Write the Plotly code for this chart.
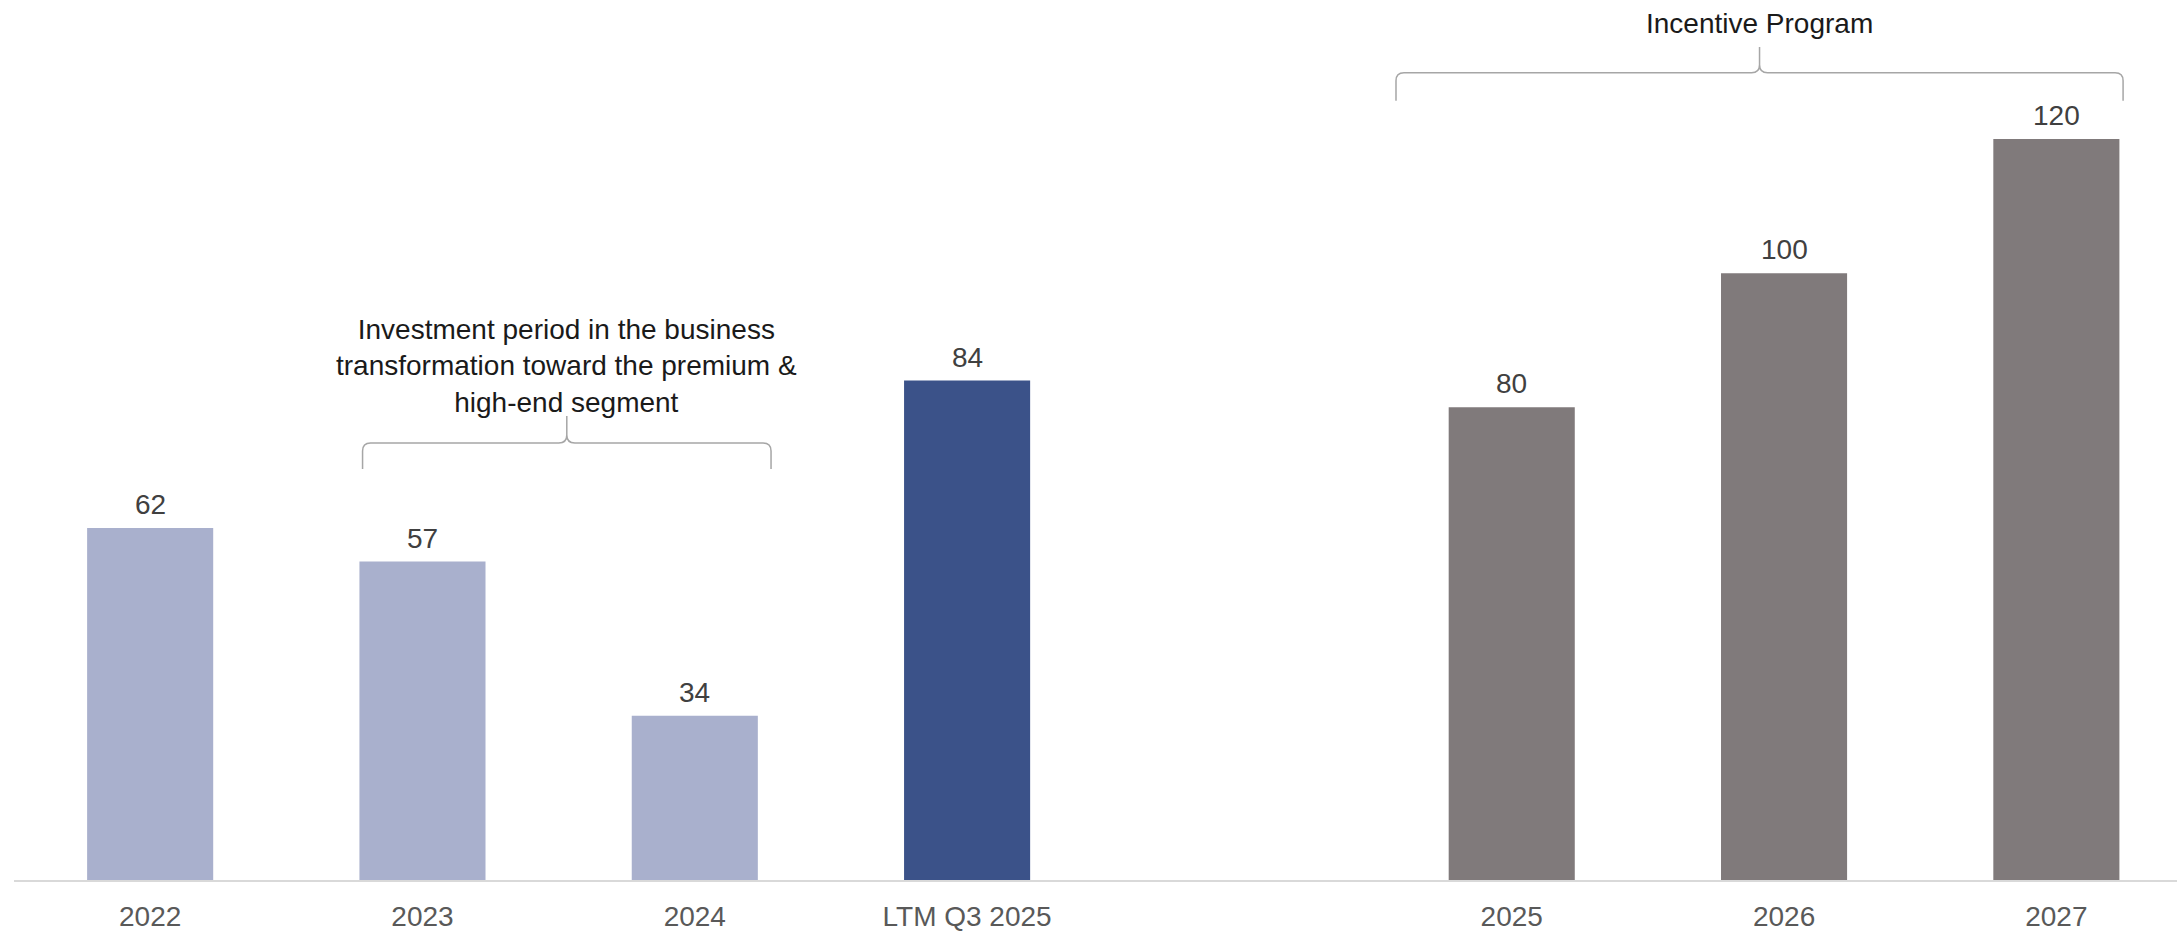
import plotly.graph_objects as go

# ---- data ----
categories = ["2022", "2023", "2024", "LTM Q3 2025", " ", "2025", "2026", "2027"]
hist_cats = ["2022", "2023", "2024"]
hist_vals = [62, 57, 34]
ltm_cats = ["LTM Q3 2025"]
ltm_vals = [84]
fc_cats = ["2025", "2026", "2027"]
fc_vals = [80, 100, 120]
brace1_text = "Investment period in the business<br>transformation toward the premium &<br>high-end segment"
brace2_text = "Incentive Program"

W, H = 2177, 932
ML, MR, MT, MB = 14, 0, 0, 50
PW, PH = W - ML - MR, H - MT - MB
X0, X1 = -0.5, 7.443
Y0, Y1 = 9.5, 140.75

LABEL_FONT = dict(family="Liberation Sans, Arial, sans-serif", size=28, color="#404040")

fig = go.Figure()
def add_bars(cats, vals, color):
    fig.add_trace(go.Bar(
        x=cats, y=vals, marker=dict(color=color, line=dict(width=0)),
        width=0.463, hoverinfo="x+y", showlegend=False))
    for c, v in zip(cats, vals):
        fig.add_annotation(x=categories.index(c), y=v, xref="x", yref="y", text=str(v),
                           showarrow=False, xanchor="center", yanchor="bottom",
                           yshift=6, font=LABEL_FONT)

add_bars(hist_cats, hist_vals, "#A9B0CD")
add_bars(ltm_cats, ltm_vals, "#3B5289")
add_bars(fc_cats, fc_vals, "#807A7B")
fig.add_trace(go.Bar(x=[" "], y=[None], showlegend=False, hoverinfo="skip"))

# helpers for bracket annotations (paper coords)
def px_x(idx):
    return (idx - X0) / (X1 - X0)
def py(pix):
    return (MT + PH - pix) / PH

def brace(xl_idx, xr_idx, y_line, y_end, y_tip, r=8):
    xl, xr = px_x(xl_idx), px_x(xr_idx)
    xm = (xl + xr) / 2
    rx = r / PW
    ry = r / PH
    yl, ye, yt = py(y_line), py(y_end), py(y_tip)
    path = (f"M {xl},{ye} L {xl},{yl - ry} Q {xl},{yl} {xl + rx},{yl} "
            f"L {xm - rx},{yl} Q {xm},{yl} {xm},{yl + ry} L {xm},{yt} "
            f"M {xm},{yl + ry} Q {xm},{yl} {xm + rx},{yl} L {xr - rx},{yl} "
            f"Q {xr},{yl} {xr},{yl - ry} L {xr},{ye}")
    fig.add_shape(type="path", path=path, xref="paper", yref="paper",
                  line=dict(color="#A6A6A6", width=1.5))
    return xm

ANN_FONT = dict(family="Liberation Sans, Arial, sans-serif", size=28, color="#1a1a1a")

xm1 = brace(0.78, 2.28, 444, 470, 417)
fig.add_annotation(x=xm1, y=py(421), xref="paper", yref="paper", text=brace1_text,
                   showarrow=False, xanchor="center", yanchor="bottom", align="center",
                   font=ANN_FONT)
xm2 = brace(4.575, 7.245, 73, 101, 47)
fig.add_annotation(x=xm2, y=py(24), xref="paper", yref="paper", text=brace2_text,
                   showarrow=False, xanchor="center", yanchor="middle",
                   font=ANN_FONT)

fig.update_layout(
    width=W, height=H, margin=dict(l=ML, r=MR, t=MT, b=MB),
    paper_bgcolor="white", plot_bgcolor="white", barmode="overlay",
    xaxis=dict(type="category", categoryorder="array", categoryarray=categories,
               range=[X0, X1], showline=True, linecolor="#D9D9D9", linewidth=2,
               showgrid=False, zeroline=False, ticks="outside", ticklen=10,
               tickcolor="rgba(0,0,0,0)",
               tickfont=dict(family="Liberation Sans, Arial, sans-serif", size=28, color="#595959")),
    yaxis=dict(range=[Y0, Y1], visible=False, showgrid=False, zeroline=False),
)

fig.write_html("out.html")
